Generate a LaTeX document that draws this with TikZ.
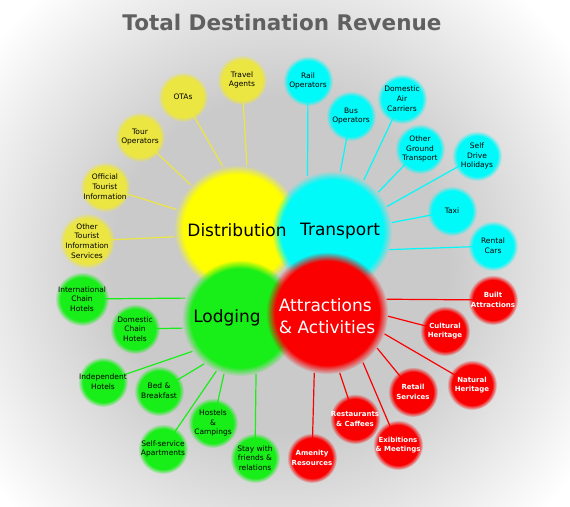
\documentclass[tikz,border=0pt]{standalone}
\usepackage{fontspec}
\setmainfont{DejaVu Sans}
\usetikzlibrary{backgrounds,fadings}

\definecolor{bggray}{RGB}{202,202,202}
\definecolor{ylw}{RGB}{255,255,0}
\definecolor{ylwleaf}{RGB}{236,230,66}
\definecolor{cyn}{RGB}{0,250,250}
\definecolor{grn}{RGB}{24,238,24}
\definecolor{rd}{RGB}{250,0,0}
\definecolor{titlegray}{RGB}{96,96,96}

\pgfdeclareradialshading{backglow}{\pgfpoint{0bp}{0bp}}{color(0bp)=(bggray); color(10bp)=(bggray); color(21.5bp)=(white); color(25bp)=(white); color(50bp)=(white)}
\pgfdeclarelayer{back}
\pgfsetlayers{back,background,main}

\begin{document}
\begin{tikzpicture}[x=1pt,y=-1pt,
                    hub/.style={circle,inner sep=0pt,
                                path fading=circle with fuzzy edge 15 percent},
                    leaf/.style={circle,inner sep=0pt,minimum size=50pt,align=center,
                                 font=\fontsize{7.5}{9.8}\selectfont,
                                 path fading=circle with fuzzy edge 20 percent},
                    redleaf/.style={leaf,fill=rd,text=white,
                                    font=\fontsize{7}{9.8}\selectfont\bfseries},
                    hubtext/.style={font=\fontsize{17}{22}\selectfont,align=left},
                    link/.style={line width=1.2pt}]

  \useasboundingbox (0,0) rectangle (570,506);

  % backdrop
  \begin{pgfonlayer}{back}
    \clip (0,0) rectangle (570,506);
    \shade[shading=backglow] (280,265) circle (420pt);
  \end{pgfonlayer}

  \node[font=\fontsize{21.5}{26}\selectfont\bfseries,text=titlegray] (title) at (282,22)
       {Total Destination Revenue};

  % the four hubs
  \node[hub,fill=ylw,minimum size=126pt] (dist)  at (237,228) {};
  \node[hub,fill=cyn,minimum size=120pt] (trans) at (332,231) {};
  \node[hub,fill=grn,minimum size=116pt] (lodg)  at (240,318) {};
  \node[hub,fill=rd,minimum size=122pt]  (attr)  at (327,313) {};

  \node[hubtext]            (distlbl)  at (237,230) {Distribution};
  \node[hubtext]            (translbl) at (340,231) {Transport};
  \node[hubtext]            (lodglbl)  at (227,318) {Lodging};
  \node[hubtext,text=white] (attrlbl)  at (327,316) {Attractions\\\& Activities};

  % distribution
  \node[leaf,fill=ylwleaf] (travel)    at (242,80)  {Travel\\Agents};
  \node[leaf,fill=ylwleaf] (otas)      at (183,97)  {OTAs};
  \node[leaf,fill=ylwleaf] (tour)      at (140,137) {Tour\\Operators};
  \node[leaf,fill=ylwleaf] (official)  at (105,187) {Official\\Tourist\\Information};
  \node[leaf,fill=ylwleaf] (otherinfo) at (87,241)  {Other\\Tourist\\Information\\Services};

  % transport
  \node[leaf,fill=cyn] (rail)      at (308,81)  {Rail\\Operators};
  \node[leaf,fill=cyn] (bus)       at (351,116) {Bus\\Operators};
  \node[leaf,fill=cyn] (air)       at (402,99)  {Domestic\\Air\\Carriers};
  \node[leaf,fill=cyn] (ground)    at (420,149) {Other\\Ground\\Transport};
  \node[leaf,fill=cyn] (selfdrive) at (477,156) {Self\\Drive\\Holidays};
  \node[leaf,fill=cyn] (taxi)      at (452,211) {Taxi};
  \node[leaf,fill=cyn] (rental)    at (493,246) {Rental\\Cars};

  % lodging
  \node[leaf,fill=grn] (intl)     at (82,299)  {International\\Chain\\Hotels};
  \node[leaf,fill=grn] (domestic) at (135,329) {Domestic\\Chain\\Hotels};
  \node[leaf,fill=grn] (indep)    at (103,382) {Independent\\Hotels};
  \node[leaf,fill=grn] (bnb)      at (159,391) {Bed \&\\Breakfast};
  \node[leaf,fill=grn] (hostels)  at (213,423) {Hostels\\\&\\Campings};
  \node[leaf,fill=grn] (apart)    at (163,449) {Self-service\\Apartments};
  \node[leaf,fill=grn] (stay)     at (255,458) {Stay with\\friends \&\\relations};

  % attractions
  \node[redleaf] (built)    at (493,300) {Built\\Attractions};
  \node[redleaf] (cultural) at (445,331) {Cultural\\Heritage};
  \node[redleaf] (natural)  at (472,385) {Natural\\Heritage};
  \node[redleaf] (retail)   at (413,392) {Retail\\Services};
  \node[redleaf] (rest)     at (355,419) {Restaurants\\\& Caffees};
  \node[redleaf] (exib)     at (398,445) {Exibitions\\\& Meetings};
  \node[redleaf] (amenity)  at (312,458) {Amenity\\Resources};

  \begin{pgfonlayer}{background}
    \path[link,ylwleaf] (travel.center)    edge (dist.81)
                        (otas.center)      edge (dist.103)
                        (tour.center)      edge (dist.137)
                        (official.center)  edge (dist.163)
                        (otherinfo.center) edge (dist.188);
    \path[link,cyn] (rail.center)      edge (trans.114)
                    (bus.center)       edge (trans.82)
                    (air.center)       edge (trans.58)
                    (ground.center)    edge (trans.40)
                    (selfdrive.center) edge (trans.24)
                    (taxi.center)      edge (trans.8)
                    (rental.center)    edge (trans.-18);
    \path[link,grn] (intl.center)     edge (lodg.160)
                    (domestic.center) edge (lodg.190)
                    (indep.center)    edge (lodg.215)
                    (bnb.center)      edge (lodg.232)
                    (hostels.center)  edge (lodg.254)
                    (apart.center)    edge (lodg.246)
                    (stay.center)     edge (lodg.286);
    \path[link,rd] (built.center)    edge (attr.13)
                   (cultural.center) edge (attr.-3)
                   (natural.center)  edge (attr.-20)
                   (retail.center)   edge (attr.-35)
                   (rest.center)     edge (attr.-78)
                   (exib.center)     edge (attr.-54)
                   (amenity.center)  edge (attr.258);
  \end{pgfonlayer}
\end{tikzpicture}
\end{document}
